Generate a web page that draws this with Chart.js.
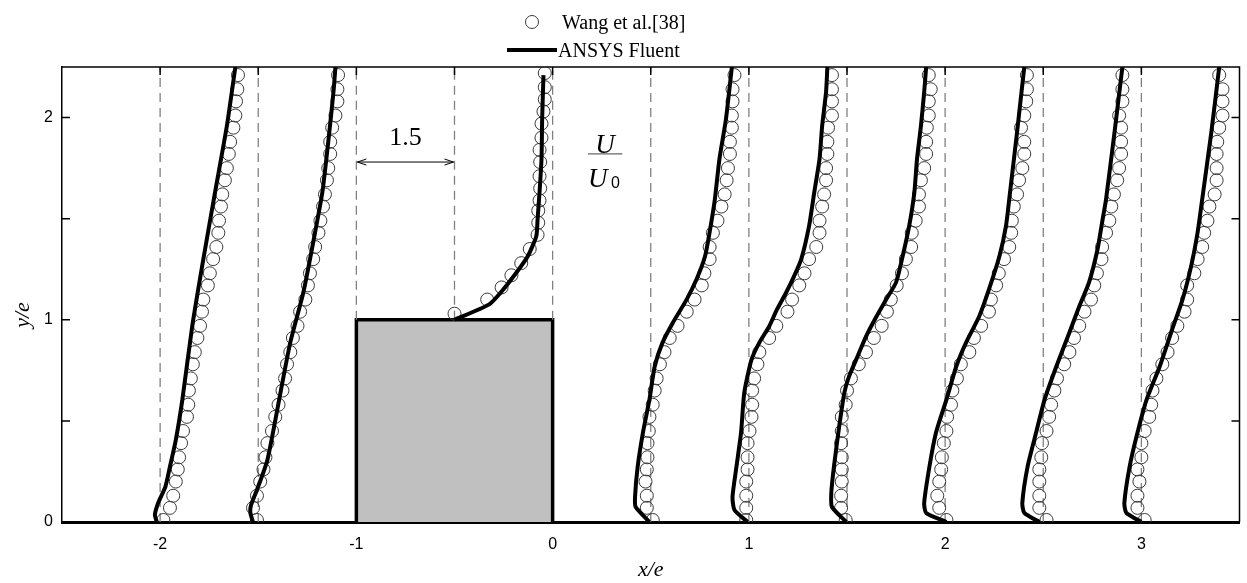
<!DOCTYPE html>
<html>
<head>
<meta charset="utf-8">
<script src="https://cdn.jsdelivr.net/npm/chart.js@4.4.1/dist/chart.umd.min.js"></script>
<style>
  body { margin: 0; background: #fff; }
  #wrap { width: 1247px; height: 583px; }
</style>
</head>
<body>
<div id="wrap"><canvas id="profiles"></canvas></div>
<script>
// stations (x/e) where velocity profiles were taken
const stations = [-2, -1.5, -0.5, 0.5, 1, 1.5, 2, 2.5, 3];
// dashed reference lines and where they start (above the block they start at y/e = 1)
const dashX = [-2, -1.5, -1, -0.5, 0, 0.5, 1, 1.5, 2, 2.5, 3];
const dashFrom = [0, 0, 1, 1, 1, 0, 0, 0, 0, 0, 0];
const xTicks = [-2, -1, 0, 1, 2, 3];
const yTicks = [0, 1, 2];

// Wang et al.[38] - y/e of the measured points
const yExp = [0.01,0.07,0.13,0.20,0.26,0.32,0.39,0.45,0.52,0.58,0.65,0.71,0.78,0.84,0.91,0.97,1.04,1.10,1.17,1.23,
              1.30,1.36,1.43,1.49,1.56,1.62,1.69,1.75,1.82,1.88,1.95,2.01,2.08,2.14,2.21];
const yExpTop = [1.03,1.10,1.16,1.22,1.28,1.35,1.42,1.48,1.54,1.59,1.65,1.71,1.78,1.84,1.90,1.97,2.03,2.09,2.15,2.22];

// measured U/U0
const expU_m2  = [0.05,0.15,0.20,0.24,0.27,0.29,0.32,0.35,0.41,0.43,0.44,0.47,0.50,0.53,0.57,0.61,0.64,0.66,0.73,0.76,
                  0.81,0.86,0.89,0.90,0.93,0.95,0.99,1.02,1.05,1.07,1.12,1.15,1.16,1.18,1.19];
const expU_m15 = [-0.02,-0.08,-0.02,0.03,0.08,0.11,0.14,0.21,0.26,0.31,0.37,0.41,0.44,0.49,0.53,0.60,0.64,0.72,0.76,0.79,
                  0.84,0.87,0.92,0.95,0.99,1.02,1.05,1.07,1.10,1.10,1.13,1.18,1.21,1.21,1.22];
const expU_m05 = [0.00,0.50,0.72,0.87,1.02,1.15,1.27,1.28,1.28,1.30,1.31,1.30,1.31,1.30,1.33,1.33,1.36,1.38,1.38,1.38];
const expU_05  = [0.03,-0.06,-0.06,-0.08,-0.06,-0.05,-0.05,-0.03,-0.02,0.03,0.06,0.09,0.14,0.21,0.29,0.41,0.55,0.67,0.78,0.82,
                  0.90,0.90,0.95,1.02,1.08,1.13,1.16,1.18,1.21,1.21,1.24,1.24,1.25,1.25,1.28];
const expU_1   = [-0.04,-0.04,-0.04,-0.04,-0.02,-0.02,-0.02,0.01,0.04,0.05,0.05,0.08,0.13,0.16,0.31,0.42,0.59,0.66,0.77,0.85,
                  0.92,1.03,1.08,1.08,1.12,1.15,1.18,1.18,1.20,1.20,1.21,1.27,1.27,1.27,1.27];
const expU_15  = [-0.02,-0.09,-0.09,-0.08,-0.08,-0.08,-0.09,-0.08,-0.08,-0.02,0.00,0.06,0.18,0.29,0.41,0.53,0.61,0.67,0.76,0.84,
                  0.90,0.98,0.99,1.05,1.10,1.10,1.13,1.18,1.21,1.21,1.22,1.25,1.25,1.28,1.25];
const expU_2   = [0.02,-0.09,-0.12,-0.09,-0.06,-0.05,-0.02,0.02,0.03,0.09,0.11,0.18,0.24,0.37,0.44,0.55,0.67,0.70,0.78,0.82,
                  0.90,0.98,1.01,1.02,1.05,1.10,1.13,1.18,1.21,1.21,1.16,1.21,1.24,1.25,1.25];
const expU_25  = [0.05,-0.06,-0.06,-0.06,-0.06,-0.03,-0.02,0.05,0.09,0.12,0.17,0.21,0.32,0.40,0.47,0.55,0.63,0.73,0.78,0.82,
                  0.89,0.90,0.96,1.01,1.04,1.08,1.13,1.16,1.19,1.19,1.19,1.16,1.21,1.21,1.21];
const expU_3   = [0.05,-0.06,-0.06,-0.03,-0.06,0.00,0.00,0.05,0.12,0.15,0.17,0.23,0.32,0.40,0.47,0.55,0.66,0.70,0.70,0.81,
                  0.86,0.93,0.96,1.01,1.04,1.12,1.15,1.15,1.15,1.16,1.19,1.24,1.24,1.24,1.19];

// ANSYS Fluent profiles: y/e and U/U0
const cfdY_m2  = [0,0.035,0.094,0.174,0.273,0.406,0.605,0.967,1.299,1.631,1.958,2.25];
const cfdU_m2  = [-0.05,-0.08,-0.03,0.08,0.15,0.24,0.34,0.49,0.66,0.84,1.02,1.15];
const cfdY_m15 = [0,0.045,0.084,0.159,0.307,0.64,0.888,1.136,1.383,1.631,1.879,2.127,2.25];
const cfdU_m15 = [-0.08,-0.12,-0.11,-0.02,0.14,0.34,0.49,0.69,0.84,0.98,1.07,1.15,1.18];
const cfdY_m05 = [1.0,1.076,1.14,1.235,1.314,1.413,1.497,1.631,1.795,1.993,2.21];
const cfdU_m05 = [0,0.53,0.72,0.95,1.12,1.25,1.27,1.30,1.33,1.34,1.36];
const cfdY_05  = [0,0.074,0.124,0.273,0.441,0.605,0.769,0.887,0.987,1.101,1.2,1.314,1.433,1.596,1.795,1.993,2.25];
const cfdU_05  = [-0.02,-0.23,-0.24,-0.20,-0.12,-0.02,0.06,0.18,0.34,0.55,0.70,0.83,0.90,0.98,1.05,1.15,1.24];
const cfdY_1   = [0,0.059,0.124,0.273,0.441,0.64,0.803,0.887,0.967,1.051,1.135,1.215,1.299,1.463,1.631,1.795,1.958,2.127,2.25];
const cfdU_1   = [-0.02,-0.22,-0.25,-0.19,-0.12,-0.07,0.04,0.16,0.31,0.43,0.57,0.69,0.80,0.92,1.00,1.08,1.12,1.18,1.20];
const cfdY_15  = [0,0.074,0.144,0.273,0.471,0.64,0.719,0.803,0.917,1.016,1.101,1.185,1.299,1.463,1.631,1.795,1.958,2.127,2.25];
const cfdU_15  = [-0.01,-0.23,-0.24,-0.20,-0.12,-0.04,0.03,0.14,0.29,0.45,0.60,0.75,0.84,0.95,1.03,1.07,1.13,1.18,1.21];
const cfdY_2   = [0,0.045,0.094,0.273,0.441,0.605,0.769,0.887,1.016,1.15,1.314,1.463,1.596,1.929,2.25];
const cfdU_2   = [0.02,-0.29,-0.32,-0.24,-0.14,0.02,0.17,0.32,0.52,0.67,0.83,0.93,0.98,1.10,1.21];
const cfdY_25  = [0,0.045,0.094,0.273,0.441,0.605,0.769,0.937,1.066,1.185,1.349,1.482,1.596,1.929,2.25];
const cfdU_25  = [-0.06,-0.29,-0.32,-0.24,-0.11,0.02,0.20,0.40,0.55,0.70,0.83,0.90,0.96,1.09,1.21];
const cfdY_3   = [0,0.045,0.094,0.273,0.441,0.605,0.769,0.952,1.101,1.264,1.433,1.596,1.929,2.25];
const cfdU_3   = [0,-0.23,-0.26,-0.18,-0.06,0.08,0.28,0.47,0.63,0.76,0.86,0.93,1.07,1.19];

// the block, x/e and y/e of its outline
const blockX = [-1, -1, 0, 0];
const blockY = [0, 1, 1, 0];

const U_SCALE = 0.5 / 1.5; // 1.5 of U/U0 spans 0.5 of x/e (arrow in the plot)

const expSets = [
    [yExp, expU_m2], [yExp, expU_m15], [yExpTop, expU_m05], [yExp, expU_05], [yExp, expU_1],
    [yExp, expU_15], [yExp, expU_2], [yExp, expU_25], [yExp, expU_3]
];
const cfdSets = [
    [cfdY_m2, cfdU_m2], [cfdY_m15, cfdU_m15], [cfdY_m05, cfdU_m05], [cfdY_05, cfdU_05], [cfdY_1, cfdU_1],
    [cfdY_15, cfdU_15], [cfdY_2, cfdU_2], [cfdY_25, cfdU_25], [cfdY_3, cfdU_3]
];

function toPoints(station, ys, us) {
    return ys.map((y, i) => ({ x: station + us[i] * U_SCALE, y }));
}

const datasets = [];

stations.forEach((s, i) => {
    datasets.push({
        data: toPoints(s, cfdSets[i][0], cfdSets[i][1]),
        showLine: true,
        borderColor: '#000',
        borderWidth: 4,
        pointRadius: 0,
        tension: 0.2,
        order: 0
    });
    datasets.push({
        data: toPoints(s, expSets[i][0], expSets[i][1]),
        showLine: false,
        pointStyle: 'circle',
        pointRadius: 6.5,
        borderWidth: 1,
        borderColor: '#3a3a3a',
        backgroundColor: 'rgba(0,0,0,0)',
        order: 1
    });
});

dashX.forEach((x, i) => {
    datasets.push({
        data: [{ x, y: dashFrom[i] }, { x, y: 2.25 }],
        showLine: true,
        borderColor: '#808080',
        borderWidth: 1.3,
        borderDash: [9, 6],
        pointRadius: 0,
        order: 2
    });
});

datasets.push({
    data: blockX.map((x, i) => ({ x, y: blockY[i] })),
    showLine: true,
    fill: 'origin',
    backgroundColor: '#c0c0c0',
    borderColor: '#000',
    borderWidth: 3.5,
    pointRadius: 0,
    tension: 0,
    order: 3
});

const SERIF = '"Liberation Serif", "Times New Roman", serif';
const SANS = '"Liberation Sans", Arial, sans-serif';

const decor = {
    id: 'decor',
    afterDraw(chart) {
        const { ctx, chartArea: a, scales: { x, y } } = chart;
        ctx.save();
        ctx.strokeStyle = '#000';
        ctx.fillStyle = '#000';

        // top + right frame
        ctx.lineWidth = 1.5;
        ctx.beginPath();
        ctx.moveTo(a.left, a.top); ctx.lineTo(a.right, a.top); ctx.lineTo(a.right, a.bottom);
        ctx.stroke();

        // inward ticks
        ctx.beginPath();
        [0.5, 1, 1.5, 2].forEach(v => {
            const py = y.getPixelForValue(v);
            ctx.moveTo(a.left, py); ctx.lineTo(a.left + 8, py);
            ctx.moveTo(a.right, py); ctx.lineTo(a.right - 8, py);
        });
        dashX.forEach(v => {
            const px = x.getPixelForValue(v);
            ctx.moveTo(px, a.top); ctx.lineTo(px, a.top + 8);
        });
        ctx.stroke();

        // 1.5 double arrow between x/e = -1 and -0.5
        const x1 = x.getPixelForValue(-1) + 1, x2 = x.getPixelForValue(-0.5) - 1;
        const ay = y.getPixelForValue(1.78);
        ctx.lineWidth = 1;
        ctx.beginPath();
        ctx.moveTo(x1, ay); ctx.lineTo(x2, ay);
        ctx.moveTo(x1 + 9, ay - 3); ctx.lineTo(x1, ay); ctx.lineTo(x1 + 9, ay + 3);
        ctx.moveTo(x2 - 9, ay - 3); ctx.lineTo(x2, ay); ctx.lineTo(x2 - 9, ay + 3);
        ctx.stroke();
        ctx.font = '26px ' + SERIF;
        ctx.textAlign = 'center';
        ctx.textBaseline = 'alphabetic';
        ctx.fillText('1.5', (x1 + x2) / 2, ay - 17);

        // U / U0
        const fx1 = x.getPixelForValue(0.18), fx2 = x.getPixelForValue(0.355);
        const fy = y.getPixelForValue(1.82);
        ctx.strokeStyle = '#666';
        ctx.lineWidth = 1.2;
        ctx.beginPath();
        ctx.moveTo(fx1, fy); ctx.lineTo(fx2, fy);
        ctx.stroke();
        ctx.font = 'italic 27px ' + SERIF;
        ctx.textAlign = 'center';
        ctx.fillText('U', (fx1 + fx2) / 2, fy - 1);
        ctx.textAlign = 'left';
        ctx.fillText('U', fx1, fy + 33);
        ctx.font = '16px ' + SANS;
        ctx.fillText('0', fx1 + 23, fy + 34);

        // y-axis title
        ctx.save();
        ctx.translate(23, 315);
        ctx.rotate(-Math.PI / 2);
        ctx.font = 'italic 22px ' + SERIF;
        ctx.textAlign = 'center';
        ctx.textBaseline = 'middle';
        ctx.fillText('y/e', 0, 0);
        ctx.restore();

        // legend
        ctx.strokeStyle = '#3a3a3a';
        ctx.lineWidth = 1;
        ctx.beginPath();
        ctx.arc(532, 22, 6.5, 0, Math.PI * 2);
        ctx.stroke();
        ctx.strokeStyle = '#000';
        ctx.lineWidth = 4;
        ctx.beginPath();
        ctx.moveTo(507, 50); ctx.lineTo(557, 50);
        ctx.stroke();
        ctx.font = '20px ' + SERIF;
        ctx.textAlign = 'left';
        ctx.textBaseline = 'alphabetic';
        ctx.fillText('Wang et al.[38]', 562, 29);
        ctx.fillText('ANSYS Fluent', 558, 57);
        ctx.restore();
    }
};

new Chart(document.getElementById('profiles'), {
    type: 'scatter',
    data: { datasets },
    plugins: [decor],
    options: {
        responsive: true,
        maintainAspectRatio: false,
        animation: false,
        layout: { padding: { top: 67, right: 7, left: 0, bottom: 0 } },
        plugins: { legend: { display: false }, tooltip: { enabled: false } },
        scales: {
            x: {
                type: 'linear',
                min: -2.5,
                max: 3.5,
                afterBuildTicks: s => { s.ticks = xTicks.map(v => ({ value: v })); },
                afterFit: s => { s.height = 61; },
                grid: { display: false, drawTicks: false },
                border: { display: true, color: '#000', width: 3 },
                ticks: {
                    color: '#000',
                    padding: 13,
                    font: { family: SANS, size: 16 },
                    callback: v => String(v)
                },
                title: {
                    display: true,
                    text: 'x/e',
                    color: '#000',
                    padding: { top: 0, bottom: 0 },
                    font: { family: SERIF, size: 22, style: 'italic' }
                }
            },
            y: {
                type: 'linear',
                min: 0,
                max: 2.25,
                afterBuildTicks: s => { s.ticks = yTicks.map(v => ({ value: v })); },
                afterFit: s => { s.width = 62; },
                grid: { display: false, drawTicks: false },
                border: { display: true, color: '#000', width: 1.5 },
                ticks: {
                    color: '#000',
                    padding: 9,
                    font: { family: SANS, size: 16 },
                    callback: v => String(v)
                }
            }
        }
    }
});
</script>
</body>
</html>
